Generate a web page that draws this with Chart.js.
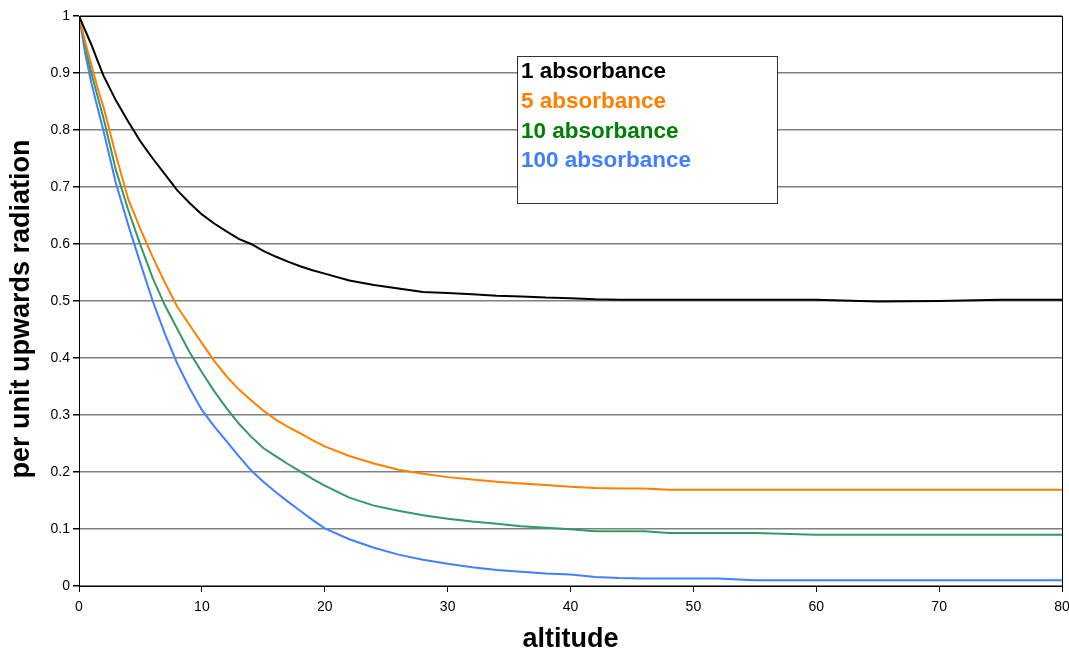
<!DOCTYPE html>
<html>
<head>
<meta charset="utf-8">
<script src="https://cdn.jsdelivr.net/npm/chart.js@4/dist/chart.umd.min.js"></script>
<style>
  html, body { margin: 0; padding: 0; background: #fff; }
  #wrap { width: 1069px; height: 651px; }
</style>
</head>
<body>
<div id="wrap"><canvas id="chart" width="1069" height="651"></canvas></div>
<script>
// altitude samples (x) shared by all series
const altitude = [0, 0.5, 1, 1.5, 2, 3, 4, 5, 6, 7, 8, 9, 10, 11, 12, 13, 14, 15, 16, 17, 18, 19, 20,
  22, 24, 26, 28, 30, 32, 34, 36, 38, 40, 42, 44, 46, 48, 50, 52, 55, 60, 65, 70, 75, 80];

const abs1 = [1.0, 0.975, 0.95, 0.922, 0.895, 0.852, 0.815, 0.78, 0.75, 0.722, 0.694, 0.672, 0.652, 0.636, 0.622, 0.609, 0.6, 0.588, 0.578, 0.569, 0.561, 0.554, 0.548,
  0.536, 0.528, 0.522, 0.516, 0.514, 0.512, 0.509, 0.508, 0.506, 0.505, 0.503, 0.502, 0.502, 0.502, 0.502, 0.502, 0.502, 0.502, 0.499, 0.5, 0.502, 0.502];

const abs5 = [1.0, 0.955, 0.915, 0.875, 0.84, 0.756, 0.679, 0.626, 0.577, 0.532, 0.49, 0.458, 0.426, 0.395, 0.368, 0.345, 0.326, 0.308, 0.292, 0.279, 0.268, 0.256, 0.245,
  0.228, 0.215, 0.204, 0.197, 0.191, 0.187, 0.183, 0.18, 0.177, 0.174, 0.172, 0.171, 0.171, 0.169, 0.169, 0.169, 0.169, 0.169, 0.169, 0.169, 0.169, 0.169];

const abs10 = [1.0, 0.95, 0.9, 0.86, 0.82, 0.73, 0.66, 0.598, 0.54, 0.492, 0.451, 0.41, 0.375, 0.342, 0.312, 0.285, 0.262, 0.242, 0.228, 0.214, 0.201, 0.188, 0.176,
  0.155, 0.141, 0.132, 0.124, 0.118, 0.113, 0.109, 0.105, 0.102, 0.0995, 0.096, 0.096, 0.096, 0.093, 0.093, 0.093, 0.093, 0.09, 0.09, 0.09, 0.09, 0.09];

const abs100 = [1.0, 0.935, 0.883, 0.84, 0.798, 0.707, 0.634, 0.566, 0.5, 0.442, 0.39, 0.347, 0.309, 0.28, 0.254, 0.228, 0.203, 0.183, 0.165, 0.148, 0.132, 0.116, 0.101,
  0.082, 0.067, 0.055, 0.046, 0.039, 0.033, 0.028, 0.025, 0.022, 0.02, 0.016, 0.014, 0.013, 0.013, 0.013, 0.013, 0.01, 0.01, 0.01, 0.01, 0.01, 0.01];

const seriesNames = ['1 absorbance', '5 absorbance', '10 absorbance', '100 absorbance'];
const lineColors = ['#000000', '#FF8000', '#339966', '#4080FF'];
const textColors = ['#000000', '#FF8000', '#008000', '#4080FF'];

const xTicks = [0, 10, 20, 30, 40, 50, 60, 70, 80];
const yTicks = [0, 0.1, 0.2, 0.3, 0.4, 0.5, 0.6, 0.7, 0.8, 0.9, 1];

const xTitle = 'altitude';
const yTitle = 'per unit upwards radiation';

const FONT = "'Liberation Sans', Arial, sans-serif";

function toPoints(ys) {
  return altitude.map((x, i) => ({ x: x, y: ys[i] }));
}

const allSeries = [abs1, abs5, abs10, abs100];

// frame round the plot area, axis titles, legend box
const extras = {
  id: 'extras',
  afterDraw(chart) {
    const ctx = chart.ctx;
    const a = chart.chartArea;
    ctx.save();
    ctx.strokeStyle = '#000';
    ctx.lineWidth = 1;
    ctx.strokeRect(Math.round(a.left) + 0.5, Math.round(a.top) + 0.5,
      Math.round(a.right - a.left), Math.round(a.bottom - a.top));

    // axis titles
    ctx.fillStyle = '#000';
    ctx.font = 'bold 27px ' + FONT;
    ctx.textAlign = 'center';
    ctx.textBaseline = 'alphabetic';
    ctx.fillText(xTitle, (a.left + a.right) / 2, 647);
    ctx.save();
    ctx.translate(29, (a.top + a.bottom) / 2 + 8);
    ctx.rotate(-Math.PI / 2);
    ctx.fillText(yTitle, 0, 0);
    ctx.restore();

    // legend
    const bx = 517.5, by = 56.5, bw = 260, bh = 147;
    ctx.fillStyle = '#fff';
    ctx.fillRect(bx, by, bw, bh);
    ctx.strokeStyle = '#333';
    ctx.strokeRect(bx, by, bw, bh);
    ctx.font = 'bold 22.5px ' + FONT;
    ctx.textBaseline = 'middle';
    ctx.textAlign = 'left';
    seriesNames.forEach((name, i) => {
      ctx.fillStyle = textColors[i];
      ctx.fillText(name, 521, 72 + i * 29.7);
    });
    ctx.restore();
  }
};

new Chart(document.getElementById('chart').getContext('2d'), {
  type: 'scatter',
  data: {
    datasets: allSeries.map((ys, i) => ({
      label: seriesNames[i],
      data: toPoints(ys),
      showLine: true,
      borderColor: lineColors[i],
      backgroundColor: lineColors[i],
      borderWidth: 2,
      pointRadius: 0,
      tension: 0
    }))
  },
  options: {
    responsive: false,
    animation: false,
    layout: { padding: { top: 16, right: 7, left: 0, bottom: 0 } },
    plugins: {
      legend: { display: false },
      tooltip: { enabled: false }
    },
    scales: {
      x: {
        type: 'linear',
        min: 0,
        max: 80,
        afterBuildTicks(scale) { scale.ticks = xTicks.map(v => ({ value: v })); },
        afterFit(scale) { scale.height = 65; scale.paddingRight = 0; scale.paddingLeft = 0; },
        grid: { drawOnChartArea: false, tickLength: 6, color: '#000' },
        border: { color: '#000', width: 1 },
        ticks: { color: '#000', font: { family: FONT, size: 14 }, padding: 7, maxRotation: 0 }
      },
      y: {
        min: 0,
        max: 1,
        afterBuildTicks(scale) { scale.ticks = yTicks.map(v => ({ value: v })); },
        afterFit(scale) { scale.width = 79; },
        grid: { color: '#808080', lineWidth: 1.5, tickColor: '#000', tickLength: 6 },
        border: { color: '#000', width: 1 },
        ticks: { color: '#000', font: { family: FONT, size: 14 }, padding: 3,
          callback: v => String(Math.round(v * 10) / 10) }
      }
    }
  },
  plugins: [extras]
});
</script>
</body>
</html>
